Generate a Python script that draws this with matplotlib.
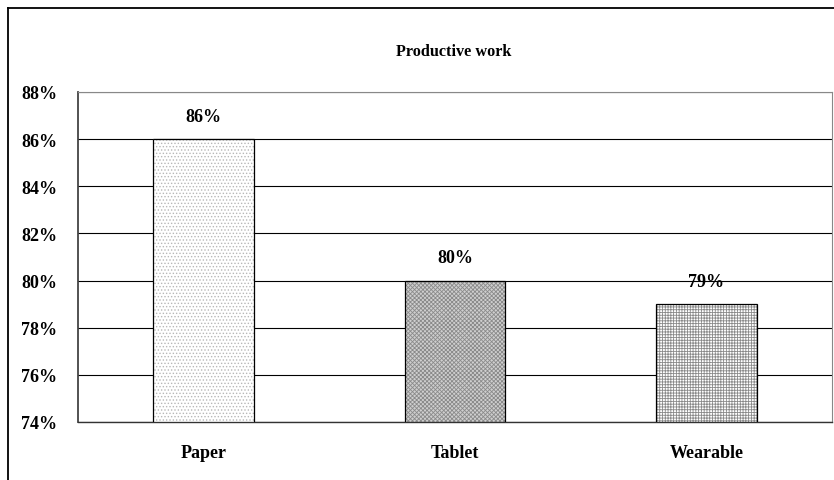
import matplotlib.pyplot as plt
from matplotlib.lines import Line2D

# Data
categories = ['Paper', 'Tablet', 'Wearable']
values = [86, 80, 79]
y_ticks = [74, 76, 78, 80, 82, 84, 86, 88]

# Styling for each bar (fill / hatch)
face_colors = ['white', '#cfcfcf', 'white']
hatches = ['.....', 'xxxxxxxx', '++++++']
hatch_colors = ['#b8b8b8', '#8a8a8a', '#8a8a8a']

plt.rcParams['font.family'] = ['Liberation Serif', 'DejaVu Serif']
plt.rcParams['font.weight'] = 'bold'
plt.rcParams['hatch.linewidth'] = 0.6

fig = plt.figure(figsize=(8.34, 4.81), dpi=100)
ax = fig.add_axes([78 / 834, 58 / 481, 754 / 834, 330 / 481])

x = range(len(categories))
for i in x:
    plt.rcParams['hatch.color'] = hatch_colors[i]
    ax.bar(i, values[i] - 74, bottom=74, width=0.4, color=face_colors[i],
           hatch=hatches[i], edgecolor=hatch_colors[i], linewidth=0, zorder=3)
    ax.bar(i, values[i] - 74, bottom=74, width=0.4, fill=False,
           edgecolor='black', linewidth=0.9, zorder=4)
    ax.text(i, values[i] + 0.6, f'{values[i]}%', ha='center', va='bottom',
            fontsize=13, fontweight='bold')

ax.set_xlim(-0.5, 2.5)
ax.set_ylim(74, 88)
ax.set_yticks(y_ticks)
ax.set_yticklabels([f'{t}%' for t in y_ticks], fontsize=13, fontweight='bold')
ax.set_xticks(list(x))
ax.set_xticklabels(categories, fontsize=13, fontweight='bold')
ax.tick_params(axis='y', length=0, pad=15)
ax.tick_params(axis='x', length=0, pad=16)

ax.grid(axis='y', color='black', linewidth=0.8, zorder=0)
ax.set_axisbelow(True)

ax.spines['left'].set_color('#444444')
ax.spines['left'].set_linewidth(1.3)
ax.spines['bottom'].set_color('#333333')
ax.spines['bottom'].set_linewidth(1.0)
ax.spines['top'].set_color('#888888')
ax.spines['right'].set_color('#888888')

fig.text(454 / 834, 1 - 52 / 481, 'Productive work', ha='center', va='center',
         fontsize=11.7, fontweight='bold')

# Outer chart frame (cut off at right and bottom)
fig.add_artist(Line2D([8 / 834, 8 / 834], [-0.01, 1 - 9 / 481], color='black',
                      linewidth=1.3, transform=fig.transFigure))
fig.add_artist(Line2D([8 / 834, 1.01], [1 - 9 / 481, 1 - 9 / 481], color='black',
                      linewidth=1.3, transform=fig.transFigure))

plt.savefig('out.png', dpi=100)
